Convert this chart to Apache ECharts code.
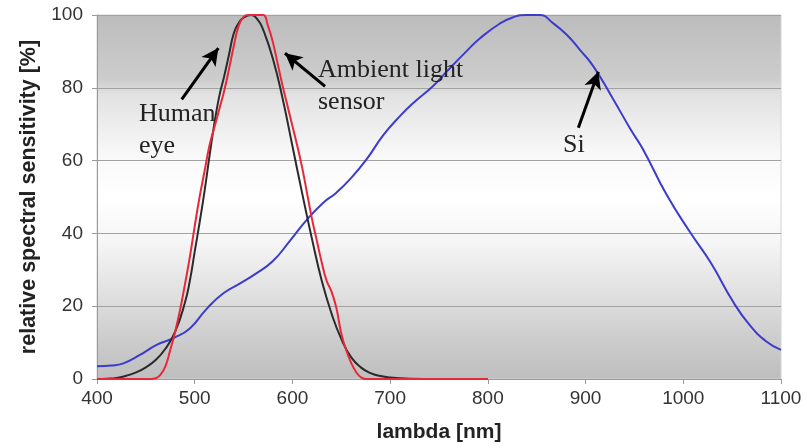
<!DOCTYPE html>
<html>
<head>
<meta charset="utf-8">
<script src="https://cdn.jsdelivr.net/npm/echarts@6/dist/echarts.min.js"></script>
<style>
html,body{margin:0;padding:0;background:#fff;}
#chart{width:807px;height:448px;}
</style>
</head>
<body>
<div id="chart"></div>
<script>
// ---- data ----
var xTicks = [400, 500, 600, 700, 800, 900, 1000, 1100];
var yTicks = [0, 20, 40, 60, 80, 100];

var eyeX = [400,410,420,430,440,450,460,470,480,490,495,500,505,510,515,520,525,530,535,540,545,550,558,565,570,580,590,600,610,620,630,640,650,660,670,680,690,700,720,750,800];
var eyeY = [0,0.1,0.3,0.9,1.8,3.2,5.2,8.3,13,21,27,35,43,51.5,61,70,77.5,83,89,95,97.8,99.3,100,98.5,96,88,77,64,51,38.5,27,18,11,6,3.2,1.6,0.8,0.4,0.1,0,0];

var alsX = [400,455,460,465,470,475,480,485,490,495,500,505,510,515,520,525,530,535,540,545,550,555,560,565,570,575,580,585,590,595,600,605,610,615,620,625,630,635,640,645,650,655,660,665,670,675,700,800];
var alsY = [0,0,0.2,1.2,3.5,8,13,19,26,33.5,42,50,57,64,69,74,79,85,91.5,97,99.5,100,100,100,100,97,92.5,86.5,80.5,75,69.5,64,58,51,44,38,32,27,24,19.5,12.5,8,4.5,2,0.5,0,0,0];

var siX = [400,415,427,444,461,478,495,512,529,546,563,580,597,614,631,645,659,676,693,710,724,744,758,778,792,812,826,840,853,867,881,894,908,928,946,959,983,1007,1028,1051,1068,1085,1100];
var siY = [3.5,3.7,4.3,6.6,9.4,11.2,13.9,19.2,23.5,26.2,29,32.4,37.8,43.5,48.3,51.2,54.9,60.4,67,72.2,75.9,80.5,84.5,90,93.6,97.6,99.4,100,100,97.7,94.5,90.5,85.9,77,68.6,63,50.6,40.3,32,21.2,14.8,10.3,8];

// annotation arrows (tail -> tip) in data units
var arrowHuman = [[486.7, 76.8], [524.2, 90.9]];
var arrowAmbient = [[633.4, 80.4], [592.4, 89.5]];
var arrowSi = [[892.6, 69.0], [913.1, 84.4]];

var labels = {human: ['Human', 'eye'], ambient: ['Ambient light', 'sensor'], si: 'Si'};

function pairs(xs, ys) { return xs.map(function (x, i) { return [x, ys[i]]; }); }
function arrow(a) { return [{coord: a[0]}, {coord: a[1]}]; }

var chart = echarts.init(document.getElementById('chart'), null, {renderer: 'canvas'});

var serif = '"Liberation Serif", "DejaVu Serif", serif';
var sans = '"Liberation Sans", Arial, sans-serif';
function txt(s, x, y) {
  return {type: 'text', x: x, y: y, z: 100,
    style: {text: s, font: '26px ' + serif, fill: '#222', verticalAlign: 'middle', align: 'left'}};
}

chart.setOption({
  animation: false,
  backgroundColor: '#ffffff',
  grid: {
    left: 97, right: 26, top: 15, bottom: 67,
    show: true,
    borderColor: '#d4d4d4', borderWidth: 1,
    backgroundColor: {
      type: 'linear', x: 0, y: 0, x2: 0, y2: 1,
      colorStops: [
        {offset: 0, color: '#bcbcbc'},
        {offset: 0.18, color: '#cdcdcd'},
        {offset: 0.22, color: '#e2e2e2'},
        {offset: 0.38, color: '#f8f8f8'},
        {offset: 0.5, color: '#ffffff'},
        {offset: 0.62, color: '#f6f6f6'},
        {offset: 0.78, color: '#dedede'},
        {offset: 0.9, color: '#cbcbcb'},
        {offset: 1, color: '#bebebe'}
      ]
    }
  },
  xAxis: {
    type: 'value', min: xTicks[0], max: xTicks[xTicks.length - 1], interval: 100,
    name: 'lambda [nm]', nameLocation: 'middle', nameGap: 43,
    nameTextStyle: {fontFamily: sans, fontWeight: 'bold', fontSize: 21, color: '#222'},
    axisLine: {lineStyle: {color: '#9a9a9a', width: 1}},
    axisTick: {show: true, length: 5, lineStyle: {color: '#9a9a9a'}},
    axisLabel: {fontFamily: sans, fontSize: 19, color: '#333', margin: 10,
      formatter: function (v) { return String(v); }},
    splitLine: {show: false}
  },
  yAxis: {
    type: 'value', min: yTicks[0], max: yTicks[yTicks.length - 1], interval: 20,
    name: 'relative spectral sensitivity [%]', nameLocation: 'middle', nameGap: 54,
    nameTextStyle: {fontFamily: sans, fontWeight: 'bold', fontSize: 21.5, color: '#222'},
    axisLine: {show: true, lineStyle: {color: '#9a9a9a', width: 1}},
    axisTick: {show: true, length: 5, lineStyle: {color: '#9a9a9a'}},
    axisLabel: {fontFamily: sans, fontSize: 19, color: '#333', margin: 14},
    splitLine: {show: true, lineStyle: {color: '#a2a2a2', width: 1}}
  },
  series: [
    {type: 'line', name: 'Si', data: pairs(siX, siY), smooth: 0.5, symbol: 'none',
      lineStyle: {color: '#3c3ccc', width: 2}},
    {type: 'line', name: 'Human eye', data: pairs(eyeX, eyeY), smooth: 0.5, symbol: 'none',
      lineStyle: {color: '#2a2a2a', width: 2}},
    {type: 'line', name: 'Ambient light sensor', data: pairs(alsX, alsY), smooth: 0.5, symbol: 'none',
      lineStyle: {color: '#e8283a', width: 2},
      markLine: {
        silent: true, symbol: ['none', 'arrow'], symbolSize: [13, 17],
        label: {show: false},
        lineStyle: {color: '#000', width: 3, type: 'solid'},
        emphasis: {disabled: true},
        data: [arrow(arrowHuman), arrow(arrowAmbient), arrow(arrowSi)]
      }}
  ],
  graphic: [
    txt(labels.human[0], 139, 114),
    txt(labels.human[1], 139, 146),
    txt(labels.ambient[0], 318, 70),
    txt(labels.ambient[1], 318, 102),
    txt(labels.si, 563, 145)
  ]
});
</script>
</body>
</html>
